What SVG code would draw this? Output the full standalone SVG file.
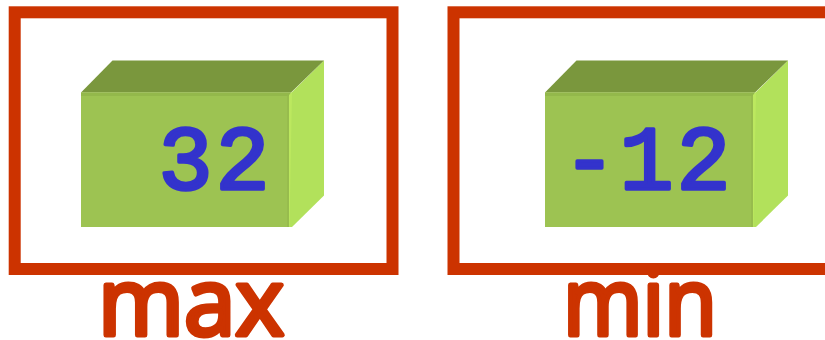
<svg xmlns="http://www.w3.org/2000/svg" width="825" height="340" viewBox="0 0 825 340">
<style>
.frame{fill:none;stroke:#cc3300;stroke-width:12}
.top{fill:#7a973d}
.front{fill:#9dc352}
.band{fill:#93b84b}
.side{fill:#b2e15b}
.edge{fill:#bce85f}
.val{font-family:"Liberation Mono",monospace;font-size:90px;letter-spacing:3px;fill:#3333cc;stroke:#3333cc;stroke-width:3.5;stroke-linejoin:round}
.lab{font-family:"Open Sans","Noto Sans",sans-serif;font-size:94px;fill:#cc3300;stroke:#cc3300;stroke-width:5;stroke-linejoin:round;stroke-linecap:round}
</style>
<defs>
<g id="box">
<polygon class="side" points="289,95 324,60.5 324,195.5 292,227 289,227"/>
<polygon class="top" points="81,92.5 112.5,60.5 324,60.5 291,92.5"/>
<polygon class="front" points="81,92.5 291,92.5 289,96 289,227 81,227"/>
<polygon class="band" points="81,92.5 291,92.5 289,96 81,96"/>
<rect class="band" x="287" y="96" width="2" height="131" opacity=".6"/>
<polygon class="edge" points="289,95 292,92 292,92.5 289.5,227 289,227"/>
</g>
</defs>
<g id="connectors"/>
<g id="max-node">
<rect class="frame" x="14.7" y="12.3" width="377.8" height="256.7"/>
<use href="#box"/>
<text class="val" x="158.5" y="188.5">32</text>
<text class="lab" x="98" y="335" textLength="186" lengthAdjust="spacingAndGlyphs">max</text>
</g>
<g id="min-node">
<rect class="frame" x="453.5" y="12.3" width="400" height="256.7"/>
<use href="#box" x="464"/>
<text class="val" x="562.5" y="188.5">-12</text>
<text class="lab" x="563" y="335" textLength="154" lengthAdjust="spacingAndGlyphs">min</text>
<circle cx="653" cy="270" r="7" fill="#cc3300"/>
</g>
</svg>
